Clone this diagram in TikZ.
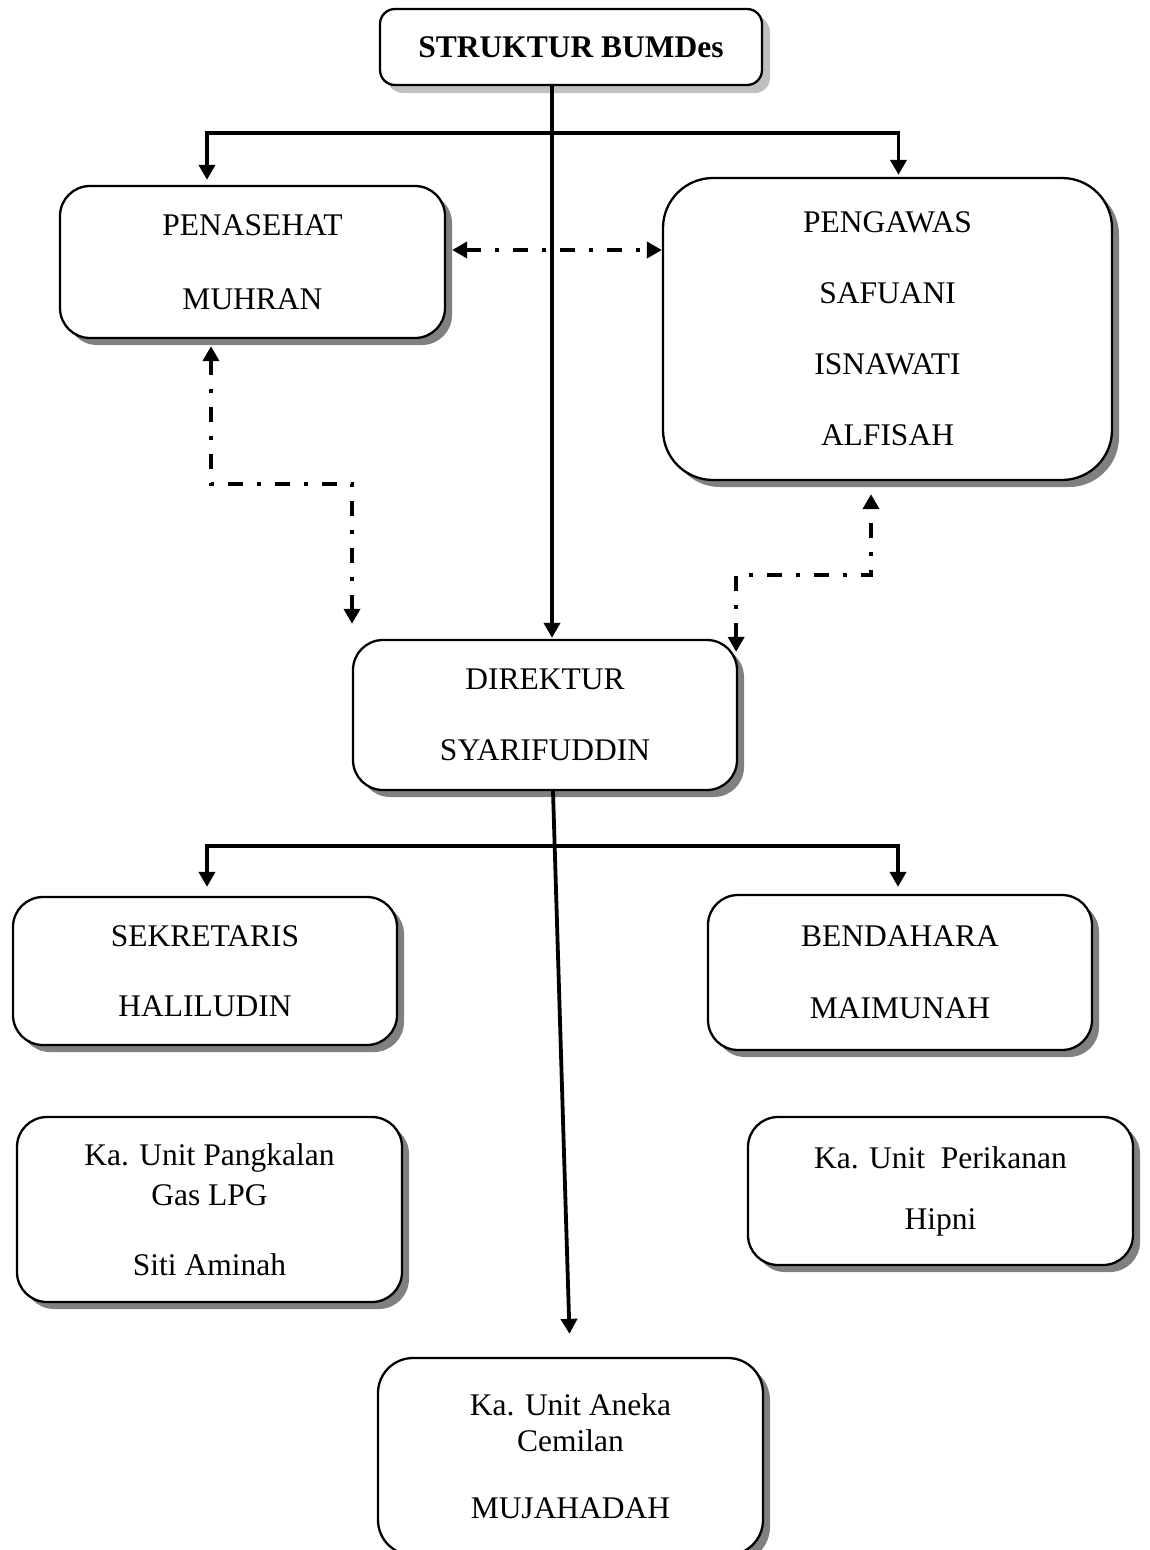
\documentclass[tikz,border=0pt]{standalone}
\usepackage{fontspec}
\setmainfont{Liberation Serif}
\usetikzlibrary{shadows,arrows.meta}
\definecolor{shadowdark}{HTML}{808080}
\definecolor{shadowlight}{HTML}{C0C0C0}
\tikzset{
  box/.style={draw, line width=2.3pt, fill=white, rounded corners=30pt,
    align=center, inner sep=0pt,
    font=\fontsize{31.5}{36}\selectfont,
    drop shadow={shadow xshift=7pt, shadow yshift=-7pt, fill=shadowdark, opacity=1}},
  titlebox/.style={box, rounded corners=15pt,
    drop shadow={shadow xshift=8pt, shadow yshift=-8pt, fill=shadowlight, opacity=1}},
  conn/.style={line width=3.8pt, line join=miter},
  tip/.style={-{Triangle[width=16pt,length=15pt]}},
  dualtip/.style={{Triangle[width=16pt,length=15pt]}-{Triangle[width=16pt,length=15pt]}},
  dashdot/.style={line width=4.2pt, dash pattern=on 15pt off 14pt on 4pt off 14pt}
}
\begin{document}
\begin{tikzpicture}[x=1pt,y=-1pt]
\useasboundingbox[fill=white] (0,0) rectangle (1149,1550);

\node[titlebox, minimum width=382pt, minimum height=76pt] (top) at (571,47) {\textbf{STRUKTUR BUMDes}};
\node[box, minimum width=385pt, minimum height=152pt] (pen) at (252.5,262) {PENASEHAT\\[38pt]MUHRAN};
\node[box, rounded corners=50pt, minimum width=449pt, minimum height=302pt] (peng) at (887.5,329) {PENGAWAS\\[35pt]SAFUANI\\[35pt]ISNAWATI\\[35pt]ALFISAH};
\node[box, minimum width=384pt, minimum height=150pt] (dir) at (545,715) {DIREKTUR\\[35pt]SYARIFUDDIN};
\node[box, minimum width=384pt, minimum height=148pt] (sek) at (205,971) {SEKRETARIS\\[34pt]HALILUDIN};
\node[box, minimum width=384pt, minimum height=155pt] (ben) at (900,972.5) {BENDAHARA\\[36pt]MAIMUNAH};
\node[box, minimum width=385pt, minimum height=185pt] (lpg) at (209.5,1209.5) {Ka. Unit Pangkalan\\[4pt]Gas LPG\\[34pt]Siti Aminah};
\node[box, minimum width=385pt, minimum height=148pt] (per) at (940.5,1191) {Ka. Unit\ \ Perikanan\\[25pt]Hipni};
\node[box, rounded corners=35pt, minimum width=385pt, minimum height=197pt] (ane) at (570.5,1456.5) {Ka. Unit Aneka\\[0pt]Cemilan\\[31pt]MUJAHADAH};

% top structure
\coordinate (b1) at (552,133);
\draw[conn,tip] ([xshift=-19pt]top.south) -- ([xshift=7pt,yshift=1pt]dir.north);
\draw[conn,tip] (b1) -| ([xshift=-45.5pt,yshift=5pt]pen.north);
\draw[conn,tip] (b1) -| ([xshift=11pt,yshift=2pt]peng.north);

% dash-dot links
\draw[dashdot,dualtip] ([xshift=6pt,yshift=12pt]pen.east) -- ([yshift=12pt]pen.east -| peng.west);
\draw[dashdot,dualtip] ([xshift=-41.5pt,yshift=-7pt]pen.south) -- ++(0,138) -| ([xshift=-193pt,yshift=15pt]dir.north);
\draw[dashdot,dualtip] ([xshift=-2pt,yshift=-13pt]dir.north east) -- ++(0,-77) -| ([xshift=-16.5pt,yshift=-13pt]peng.south);

% lower structure
\coordinate (b2) at (555,846);
\draw[conn,tip] ([xshift=8pt]dir.south) -- ([xshift=-1pt,yshift=23pt]ane.north);
\draw[conn,tip] (b2) -| ([xshift=2pt,yshift=9pt]sek.north);
\draw[conn,tip] (b2) -| ([xshift=-2pt,yshift=7pt]ben.north);
\end{tikzpicture}
\end{document}
